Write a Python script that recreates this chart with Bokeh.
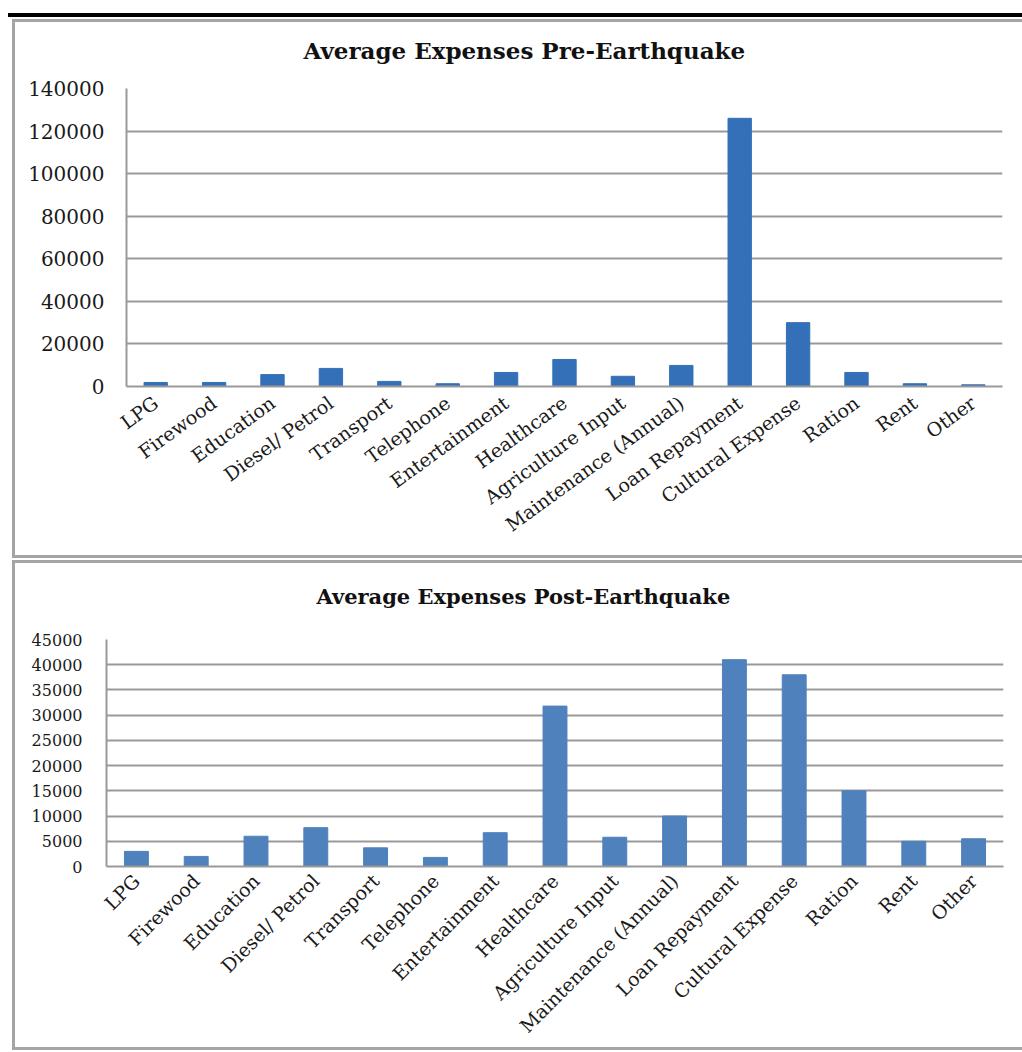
import math
from bokeh.plotting import figure
from bokeh.models import Range1d, FixedTicker, NumeralTickFormatter, Div, Title
from bokeh.layouts import column
from bokeh.embed import file_html
from bokeh.resources import INLINE

categories = ["LPG", "Firewood", "Education", "Diesel/ Petrol", "Transport", "Telephone",
              "Entertainment", "Healthcare", "Agriculture Input", "Maintenance (Annual)",
              "Loan Repayment", "Cultural Expense", "Ration", "Rent", "Other"]
pre_values = [1900, 1900, 5600, 8500, 2400, 1300, 6600, 12700, 4800, 9900, 126000, 30000, 6600, 1300, 800]
post_values = [3000, 2000, 6000, 7700, 3700, 1800, 6700, 31800, 5800, 10000, 41000, 38000, 15000, 5000, 5500]
pre_ticks = [0, 20000, 40000, 60000, 80000, 100000, 120000, 140000]
post_ticks = [0, 5000, 10000, 15000, 20000, 25000, 30000, 35000, 40000, 45000]

FONT = "DejaVu Serif"
GRID = "#999999"


def make_chart(title, values, ticks, ymax, color, height, mb, tick_size, standoff_y,
               cat_size, angle, cat_standoff, title_offset, title_size, gap_standoff):
    p = figure(x_range=categories, y_range=Range1d(0, ymax), width=1007, height=height,
               output_backend="svg", toolbar_location=None,
               min_border_left=mb[0], min_border_right=mb[1], min_border_top=mb[2], min_border_bottom=mb[3],
               margin=(0, 0, 0, 15))
    p.frame_align = False
    p.vbar(x=categories, top=values, width=0.4, fill_color=color, line_color=color)
    p.outline_line_color = None
    p.background_fill_color = "white"
    p.border_fill_color = "white"
    p.xgrid.visible = False
    p.ygrid.grid_line_color = GRID
    p.ygrid.grid_line_width = 2
    p.yaxis.ticker = FixedTicker(ticks=ticks)
    p.yaxis.formatter = NumeralTickFormatter(format="0")
    for ax in (p.xaxis, p.yaxis):
        ax.axis_line_color = GRID
        ax.axis_line_width = 2
        ax.major_tick_line_color = None
        ax.minor_tick_line_color = None
        ax.major_label_text_font = FONT
        ax.major_label_text_color = "#1a1a1a"
    p.yaxis.major_label_text_font_size = f"{tick_size}px"
    p.yaxis.major_label_standoff = standoff_y
    p.xaxis.major_label_text_font_size = f"{cat_size}px"
    p.xaxis.major_label_orientation = math.radians(angle)
    p.xaxis.major_label_standoff = cat_standoff
    # invisible spacer between frame and title
    p.add_layout(Title(text=" ", text_font_size="10px", standoff=gap_standoff), "above")
    p.title.text = title
    p.title.text_font = FONT
    p.title.text_font_style = "bold"
    p.title.text_font_size = f"{title_size}px"
    p.title.text_color = "#111111"
    p.title.align = "left"
    p.title.offset = title_offset
    p.title.standoff = 10
    p.styles = {"outline": "3px solid #a5a5a5"}
    return p


p1 = make_chart("Average Expenses Pre-Earthquake", pre_values, pre_ticks, 140000, "#3470b8",
                533, (111, 20, 66, 169), 20, 16, 19, 36, 8, 177, 23, 7)
p2 = make_chart("Average Expenses Post-Earthquake", post_values, post_ticks, 45000, "#4f81bd",
                484, (91, 19, 76, 181), 16, 18, 19, 45, 5, 210, 21, 13)

bar = Div(width=1014, height=4, margin=(13, 0, 5, 8), styles={"background-color": "black"})

layout = column(bar, p1, Div(width=10, height=8, margin=0), p2, margin=0)

open("out.html", "w").write(file_html(layout, INLINE))
